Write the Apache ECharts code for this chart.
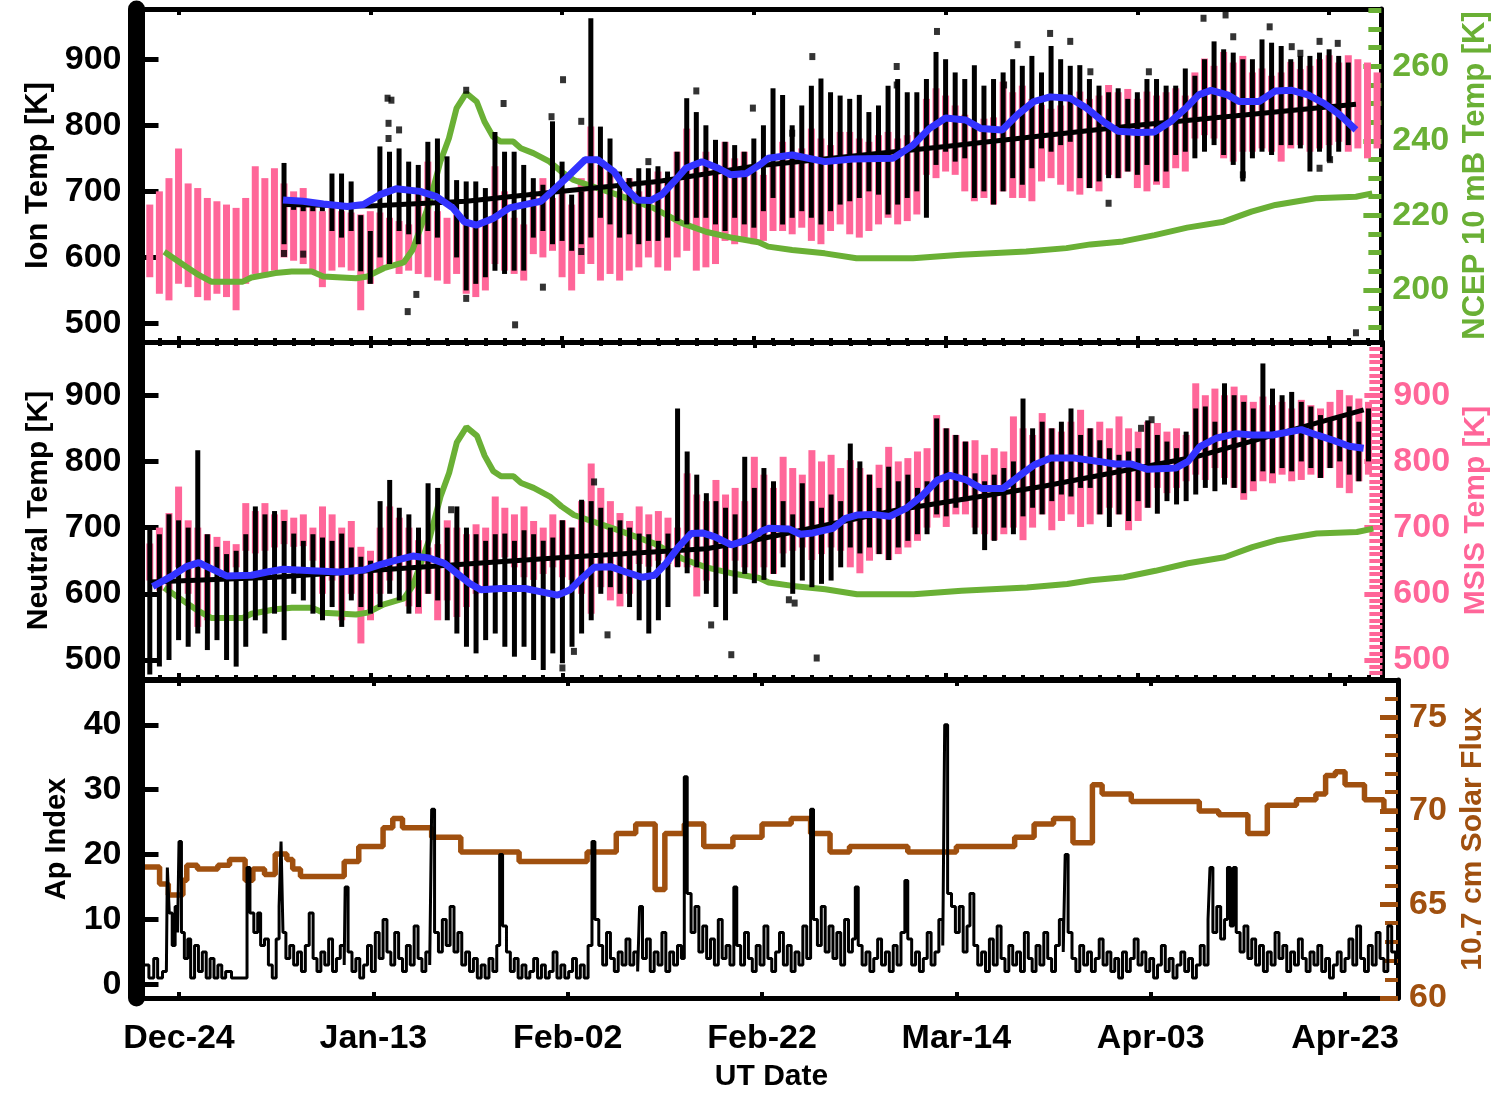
<!DOCTYPE html>
<html><head><meta charset="utf-8">
<script src="https://cdn.jsdelivr.net/npm/echarts@6/dist/echarts.min.js"></script>
<style>html,body{margin:0;padding:0;background:#fff}#c{width:1499px;height:1093px}</style>
</head><body><div id="c"></div>
<script>
// ---------------- DATA (x = days since Dec-24) ----------------
const tickDays = [0, 20, 40, 60, 80, 100, 120];
const tickLabels = ['Dec-24', 'Jan-13', 'Feb-02', 'Feb-22', 'Mar-14', 'Apr-03', 'Apr-23'];

// top panel, pink cloud: [day, low, high]
const ionModelRange = [[-3,570,680],[-2,545,700],[-1,535,720],[0,560,765],[1,555,712],[2,540,705],[3,535,690],[4,545,685],[5,540,680],[6,520,675],[7,560,690],[8,575,738],[9,570,720],[10,580,735],[11,600,712],[12,595,700],[13,590,705],[14,575,680],[15,555,670],[16,580,675],[17,585,670],[18,580,668],[19,520,665],[20,560,670],[21,580,668],[22,585,660],[23,575,655],[24,580,650],[25,575,700],[26,570,745],[27,565,670],[28,560,660],[29,575,665],[30,545,650],[31,540,648],[32,550,655],[33,590,738],[34,580,700],[35,575,660],[36,565,650],[37,605,700],[38,600,720],[39,610,690],[40,570,700],[41,550,680],[42,575,720],[43,590,798],[44,565,740],[45,575,730],[46,565,700],[47,580,720],[48,585,700],[49,600,710],[50,585,730],[51,580,715],[52,600,760],[53,610,795],[54,580,740],[55,585,760],[56,590,735],[57,625,775],[58,620,750],[59,630,760],[60,620,730],[61,625,725],[62,640,740],[63,640,775],[64,635,760],[65,645,765],[66,625,795],[67,620,780],[68,640,770],[69,650,790],[70,635,790],[71,630,780],[72,640,775],[73,650,785],[74,660,790],[75,650,780],[76,655,785],[77,665,790],[78,725,840],[79,720,856],[80,730,845],[81,725,830],[82,700,816],[83,685,800],[84,690,810],[85,680,812],[86,700,866],[87,690,850],[88,690,860],[89,685,840],[90,715,831],[91,720,825],[92,710,830],[93,700,845],[94,695,851],[95,705,840],[96,700,845],[97,725,861],[98,720,850],[99,730,855],[100,705,840],[101,700,851],[102,710,845],[103,705,850],[104,735,856],[105,730,845],[106,780,880],[107,785,901],[108,780,890],[109,750,911],[110,745,895],[111,760,905],[112,760,880],[113,765,886],[114,760,875],[115,745,880],[116,765,896],[117,770,885],[118,760,890],[119,765,900],[120,770,906],[121,775,895],[122,760,906],[123,765,900],[124,750,895],[125,765,880]];

// top panel, measured ion temperature (black): [day, low, high]
const ionTempRange = [[11,620,743],[12,672,684],[13,670,684],[14,670,682],[15,670,684],[16,640,727],[17,630,727],[18,640,715],[19,579,664],[20,560,640],[21,600,768],[22,590,760],[23,640,765],[24,635,745],[25,620,740],[26,640,775],[27,630,780],[28,680,753],[29,600,717],[30,550,715],[31,560,715],[32,570,705],[33,580,790],[34,575,760],[35,580,760],[36,580,740],[37,630,720],[38,640,710],[39,620,806],[40,625,745],[41,610,695],[42,620,700],[43,630,962],[44,660,798],[45,650,780],[46,630,730],[47,635,720],[48,620,735],[49,625,735],[50,625,738],[51,630,730],[52,655,760],[53,650,841],[54,660,820],[55,660,800],[56,650,778],[57,640,775],[58,660,770],[59,650,760],[60,645,780],[61,670,800],[62,690,856],[63,650,846],[64,660,800],[65,670,830],[66,660,860],[67,650,871],[68,670,850],[69,680,845],[70,685,840],[71,690,846],[72,700,820],[73,695,830],[74,665,860],[75,680,870],[76,690,850],[77,700,850],[78,660,870],[79,740,911],[80,760,900],[81,745,880],[82,750,870],[83,690,891],[84,700,860],[85,680,870],[86,700,880],[87,720,900],[88,710,890],[89,735,905],[90,765,880],[91,760,920],[92,770,900],[93,775,890],[94,720,891],[95,705,870],[96,715,860],[97,720,850],[98,720,856],[99,730,840],[100,725,850],[101,740,870],[102,715,870],[103,730,860],[104,755,860],[105,760,886],[106,750,875],[107,760,900],[108,770,927],[109,755,915],[110,740,910],[111,715,900],[112,750,900],[113,760,930],[114,755,925],[115,770,920],[116,770,900],[117,765,905],[118,730,905],[119,760,910],[120,745,915],[121,760,905],[122,770,895]];
const ionTempDots = [[21.8,841],[21.9,803],[23,793],[21.9,780],[30,853],[33.9,833],[40.1,869],[38.9,813],[42,806],[49,745],[54,852],[59.9,826],[35.1,498],[23.9,518],[24.8,544],[30,538],[42,609],[22.2,838],[66.1,904],[79.1,942],[90.9,939],[119,927],[120.9,924],[113.8,949],[106.9,962],[109.2,967],[122.8,486],[97,682],[64,788],[87.5,922],[93,927],[95.1,881],[101.2,881],[116.1,919],[117,909],[74.9,889],[74.9,861],[86.1,861],[110,934],[111,725],[119,735],[120.1,748],[38,555],[13,605],[11,606]];
const ionSmooth = [[10.9,687],[13,685],[15.1,681],[17.6,677],[19.3,680],[21,695],[22.7,704],[25.2,700],[26.9,692],[28.6,675],[29.8,654],[31.1,649],[32.8,659],[34.5,675],[36.1,680],[37.8,685],[39.1,702],[40.8,725],[42.4,748],[43.7,748],[45.4,730],[46.6,705],[47.9,687],[49.2,686],[50.4,695],[51.7,715],[52.9,735],[54.6,745],[56.3,735],[57.6,725],[59.2,727],[60.8,742],[61.5,750],[64,755],[67.4,745],[70.3,749],[74.5,750],[76.6,770],[78.3,795],[80,811],[82.1,808],[83.7,795],[85.9,793],[87.5,816],[89.2,836],[90.9,843],[93,841],[94.7,826],[96.4,806],[98,791],[100.1,789],[101.8,790],[103.5,806],[105.2,828],[106.4,846],[107.7,853],[109.4,846],[110.6,836],[112.7,836],[114.4,852],[116.1,853],[117.8,846],[119.5,833],[121.1,816],[122.8,793]];
const ionTrend = [[11,680],[20,678],[30,685],[40,700],[50,715],[60,738],[80,768],[100,800],[122.8,832]];

// NCEP 10 mB temperature (green, right axis)
const ncepTemp = [[-1.5,210.2],[0.8,206.2],[2.1,204],[3.4,202.2],[6.7,202.2],[7.6,203.3],[10.1,204.5],[11.8,204.9],[13.9,204.9],[15.1,203.6],[18.5,203.1],[19.7,203.6],[21.4,205.8],[23.5,207.4],[24.4,210.7],[26.1,222.8],[27.3,234.4],[28.2,240.7],[29,248.8],[30,252.8],[31.1,250.5],[31.9,245.2],[32.8,241.1],[33.6,239.8],[34.9,239.8],[35.7,238],[37,236.7],[38.7,234.4],[39.9,231.8],[41.2,229.5],[45.8,225.5],[49.6,221.9],[52.5,217.9],[55,215.6],[57.9,213.9],[60.5,212.8],[61.5,211.6],[64,210.7],[67.4,209.8],[70.7,208.5],[76.6,208.5],[81.6,209.4],[88.4,210.3],[92.6,211.2],[95.1,212.2],[98.5,213],[101.8,214.7],[105.2,216.7],[109,218.3],[111.9,221],[114.4,222.8],[118.6,224.6],[122.8,225],[124.5,225.9]];

// middle panel, MSIS (pink): [day, low, high]
const msisRange = [[-3,620,676],[-2,605,700],[-1,601,722],[0,640,762],[1,600,711],[2,550,700],[3,560,690],[4,635,686],[5,631,680],[6,640,675],[7,665,737],[8,661,725],[9,665,737],[10,670,720],[11,675,727],[12,671,715],[13,672,720],[14,650,700],[15,600,732],[16,620,720],[17,560,700],[18,600,710],[19,525,671],[20,560,665],[21,600,700],[22,620,732],[23,640,715],[24,581,700],[25,570,681],[26,600,670],[27,560,675],[28,590,711],[29,565,700],[30,580,690],[31,600,705],[32,610,700],[33,651,747],[34,655,730],[35,640,720],[36,625,732],[37,621,710],[38,630,700],[39,640,720],[40,625,711],[41,621,700],[42,600,740],[43,570,797],[44,610,760],[45,590,740],[46,581,722],[47,600,710],[48,645,732],[49,641,720],[50,650,725],[51,645,715],[52,641,700],[53,640,782],[54,596,750],[55,620,740],[56,640,772],[57,631,750],[58,650,760],[59,640,740],[60,621,807],[61,640,780],[62,630,760],[63,661,807],[64,665,790],[65,670,780],[66,651,817],[67,660,800],[68,670,810],[69,665,790],[70,640,802],[71,631,790],[72,650,780],[73,660,795],[74,651,822],[75,660,800],[76,670,805],[77,680,815],[78,700,820],[79,715,870],[80,701,850],[81,720,840],[82,720,830],[83,700,832],[84,690,810],[85,681,820],[86,690,815],[87,700,868],[88,681,850],[89,700,840],[90,720,873],[91,696,850],[92,710,845],[93,720,860],[94,701,878],[95,705,850],[96,720,860],[97,730,850],[98,720,868],[99,696,850],[100,710,845],[101,730,860],[102,760,858],[103,752,845],[104,760,850],[105,770,840],[106,780,918],[107,772,900],[108,790,910],[109,775,900],[110,760,913],[111,742,900],[112,755,890],[113,770,898],[114,767,885],[115,780,890],[116,770,880],[117,772,893],[118,780,885],[119,775,880],[120,790,890],[121,760,908],[122,752,900],[123,770,895],[124,780,890]];

// middle panel, neutral temperature (black): [day, low, high]
const neutralRange = [[-3,478,700],[-2,490,690],[-1,500,720],[0,530,711],[1,520,700],[2,540,817],[3,515,690],[4,530,671],[5,500,660],[6,490,665],[7,520,690],[8,560,732],[9,540,720],[10,570,725],[11,530,710],[12,600,691],[13,590,680],[14,570,690],[15,560,685],[16,580,680],[17,550,691],[18,590,670],[19,580,656],[20,570,650],[21,580,740],[22,600,772],[23,590,730],[24,570,720],[25,580,700],[26,600,767],[27,590,760],[28,560,700],[29,540,732],[30,520,700],[31,510,690],[32,530,680],[33,540,690],[34,520,691],[35,505,680],[36,520,696],[37,500,690],[38,485,680],[39,510,685],[40,495,711],[41,520,700],[42,540,742],[43,560,740],[44,600,730],[45,610,700],[46,600,711],[47,580,700],[48,560,691],[49,540,690],[50,560,680],[51,580,691],[52,640,880],[53,631,815],[54,640,780],[55,600,752],[56,580,740],[57,560,730],[58,600,720],[59,630,807],[60,616,760],[61,621,790],[62,630,770],[63,640,740],[64,600,720],[65,620,767],[66,610,740],[67,615,730],[68,620,750],[69,640,740],[70,670,827],[71,661,800],[72,670,780],[73,660,760],[74,651,792],[75,670,770],[76,680,780],[77,690,760],[78,690,770],[79,720,865],[80,717,850],[81,730,840],[82,740,830],[83,690,782],[84,666,770],[85,680,780],[86,700,790],[87,690,800],[88,717,895],[89,730,850],[90,720,860],[91,740,850],[92,750,860],[93,747,880],[94,760,840],[95,760,850],[96,720,832],[97,701,820],[98,720,810],[99,710,815],[100,740,820],[101,730,862],[102,721,840],[103,740,830],[104,735,820],[105,740,845],[106,750,880],[107,760,883],[108,755,860],[109,765,918],[110,760,900],[111,752,890],[112,770,880],[113,785,948],[114,782,910],[115,790,900],[116,785,905],[117,800,890],[118,790,883],[119,775,870],[120,790,865],[121,800,870],[122,780,883],[123,770,860],[124,800,880]];
const neutralDots = [[28.4,727],[43.3,769],[55.5,553],[57.6,508],[44.7,538],[41.2,513],[66.5,503],[101.4,863],[100.3,850],[63.6,591],[64.2,586],[40,488]];
const neutralSmooth = [[-2.7,611],[-0.8,626],[0.8,641],[2.1,647],[3.4,638],[5,627],[7.6,628],[9.2,633],[10.9,637],[13.9,635],[16.8,633],[19.3,636],[21,644],[22.7,651],[24.4,657],[26.1,654],[27.7,646],[29,631],[30.3,616],[31.5,606],[33.6,608],[36.1,608],[37.8,603],[39.5,598],[40.8,606],[42,623],[43.3,640],[45,641],[46.6,633],[48.3,625],[49.6,628],[50.8,646],[52.1,671],[53.4,691],[54.6,692],[55.9,686],[57.6,674],[59.2,681],[60.8,695],[61.5,699],[63.6,698],[64.8,690],[66.1,692],[68.2,699],[69.5,714],[70.7,719],[72.4,720],[74.1,717],[75.8,729],[77.4,747],[79.1,772],[80.4,779],[82.1,772],[83.7,759],[85.9,759],[87.5,777],[89.2,795],[90.9,805],[93.4,805],[95.9,800],[97.6,796],[99.3,796],[101,788],[103.9,790],[105.2,800],[106.4,822],[108.1,835],[110.2,842],[111.9,840],[114,840],[117,848],[118.6,840],[120.3,832],[122,823],[123.5,820]];
const neutralTrend = [[-3,618],[10,625],[25,640],[40,655],[55,668],[60,681],[75,727],[90,762],[106,807],[123.5,878]];

// bottom panel: Ap index (black) and 10.7 cm solar flux (brown, step)
const apIndex = [[-3.5,3],[-3.1,1],[-2.6,4],[-2.2,1],[-1.7,2],[-1.3,2],[-1.2,18],[-1.0,11],[-0.7,6],[-0.4,12],[-0.15,8],[0.0,22],[0.25,8],[0.55,4],[0.9,7],[1.2,1],[1.6,6],[2.0,2],[2.4,5],[2.8,1],[3.2,4],[3.6,1],[4.0,3],[4.4,1],[4.8,2],[5.4,1],[6.0,1],[6.6,1],[7.0,18],[7.3,11],[7.7,8],[8.1,11],[8.4,6],[8.8,7],[9.2,3],[9.6,1],[10.0,7],[10.3,12],[10.5,22],[10.7,8],[11.0,4],[11.4,6],[11.8,3],[12.2,5],[12.6,2],[13.0,6],[13.4,11],[13.8,4],[14.2,2],[14.6,5],[15.0,3],[15.4,7],[15.8,2],[16.2,4],[16.6,6],[17.0,3],[17.1,15],[17.4,5],[17.8,2],[18.2,4],[18.6,1],[19.0,3],[19.4,6],[19.8,2],[20.2,8],[20.6,4],[21.0,10],[21.4,5],[21.8,3],[22.2,8],[22.6,4],[23.0,2],[23.4,6],[23.8,3],[24.2,9],[24.6,4],[25.0,2],[25.4,5],[25.8,3],[26.0,27],[26.3,8],[26.7,5],[27.1,10],[27.5,6],[27.9,12],[28.3,5],[28.7,8],[29.1,3],[29.5,5],[29.9,2],[30.3,4],[30.7,1],[31.1,3],[31.5,1],[31.9,4],[32.3,2],[32.7,6],[33.0,20],[33.3,9],[33.7,5],[34.1,2],[34.5,4],[34.9,1],[35.3,3],[35.7,1],[36.1,2],[36.5,4],[36.9,1],[37.3,3],[37.7,1],[38.1,2],[38.5,5],[38.9,1],[39.3,3],[39.7,1],[40.1,2],[40.5,4],[40.9,1],[41.3,3],[41.7,1],[42.1,6],[42.5,22],[42.8,10],[43.2,6],[43.6,3],[44.0,8],[44.4,4],[44.8,2],[45.2,5],[45.6,3],[46.0,7],[46.4,3],[46.8,5],[47.2,2],[47.4,12],[47.7,4],[48.1,7],[48.5,2],[48.9,5],[49.3,3],[49.7,8],[50.1,2],[50.5,5],[50.9,3],[51.3,6],[51.7,4],[52.0,32],[52.3,14],[52.7,8],[53.1,12],[53.5,5],[53.9,9],[54.3,4],[54.7,7],[55.1,3],[55.5,10],[55.9,4],[56.3,6],[56.7,3],[57.1,15],[57.4,6],[57.8,3],[58.2,8],[58.6,4],[59.0,2],[59.4,6],[59.8,3],[60.2,9],[60.6,4],[61.0,2],[61.4,5],[61.8,8],[62.2,3],[62.6,6],[63.0,2],[63.4,5],[63.8,3],[64.2,9],[64.6,4],[65.0,27],[65.3,10],[65.7,6],[66.1,12],[66.5,5],[66.9,9],[67.3,4],[67.7,8],[68.1,3],[68.5,10],[68.9,5],[69.3,7],[69.6,15],[69.9,6],[70.3,3],[70.7,5],[71.1,2],[71.5,4],[71.9,7],[72.3,3],[72.7,5],[73.1,2],[73.5,6],[73.9,3],[74.3,8],[74.7,16],[75.0,7],[75.4,3],[75.8,5],[76.2,2],[76.6,4],[77.0,8],[77.4,3],[77.8,5],[78.2,10],[78.6,6],[78.8,40],[79.1,14],[79.5,12],[79.9,8],[80.3,12],[80.7,5],[81.1,9],[81.4,14],[81.8,6],[82.2,3],[82.6,5],[83.0,2],[83.4,7],[83.8,3],[84.2,9],[84.6,4],[85.0,2],[85.4,6],[85.8,3],[86.2,5],[86.6,2],[87.0,8],[87.4,4],[87.8,2],[88.2,6],[88.6,3],[89.0,8],[89.4,4],[89.8,2],[90.2,6],[90.6,10],[91.0,5],[91.2,20],[91.5,8],[91.9,4],[92.3,2],[92.7,6],[93.1,3],[93.5,5],[93.9,2],[94.3,4],[94.7,7],[95.1,3],[95.5,5],[95.9,2],[96.3,4],[96.7,1],[97.1,5],[97.5,2],[97.9,4],[98.3,7],[98.7,3],[99.1,5],[99.5,2],[99.9,4],[100.3,1],[100.7,3],[101.1,6],[101.5,2],[101.9,4],[102.3,1],[102.7,3],[103.1,5],[103.5,2],[103.9,4],[104.3,1],[104.7,3],[105.1,6],[105.5,3],[105.9,10],[106.1,18],[106.4,8],[106.8,12],[107.2,7],[107.6,10],[107.9,18],[108.2,9],[108.5,18],[108.8,8],[109.2,5],[109.6,9],[110.0,4],[110.4,7],[110.8,3],[111.2,6],[111.6,2],[112.0,5],[112.4,3],[112.8,8],[113.2,4],[113.6,6],[114.0,2],[114.4,5],[114.8,3],[115.2,7],[115.6,4],[116.0,2],[116.4,5],[116.8,3],[117.2,6],[117.6,2],[118.0,4],[118.4,1],[118.8,3],[119.2,5],[119.6,2],[120.0,4],[120.4,7],[120.8,3],[121.2,9],[121.6,4],[122.0,2],[122.4,6],[122.8,3],[123.2,8],[123.6,4],[124.0,2],[124.4,9],[124.8,5],[125.2,3]];
const solarFlux = [[-3.5,67.0],[-2,66.1],[-1.1,65.5],[0.4,66.3],[0.8,67.1],[1.9,66.9],[4,67.1],[5.2,67.4],[6.8,66.3],[7.6,66.9],[8.8,66.6],[9.9,67.7],[11.1,67.4],[11.7,66.9],[12.5,66.5],[17,67.3],[18.5,68.1],[21,69.1],[22,69.6],[23,69.1],[26,68.6],[29,67.8],[35,67.3],[42,67.8],[45,68.8],[47,69.3],[49,65.8],[50,68.8],[52,69.3],[54,68.1],[57,68.6],[60,69.3],[63,69.6],[65,68.8],[67,67.8],[69,68.1],[75,67.8],[80,68.1],[86,68.6],[88,69.3],[90,69.6],[92,68.3],[94,71.4],[95,70.9],[98,70.5],[105,70.0],[107,69.8],[110,68.8],[112,70.3],[115,70.6],[117,70.9],[118,71.9],[119,72.1],[120,71.4],[122,70.6],[124,70.0],[125.4,70.0]];

// axis tick values
const ionTicks = [500, 600, 700, 800, 900];
const ncepTicks = [200, 220, 240, 260];
const apTicks = [0, 10, 20, 30, 40];
const fluxTicks = [60, 65, 70, 75];

// ---------------- STYLE ----------------
const PINK = '#FF6699', GREEN = '#6AB035', BLUE = '#3333FF', BROWN = '#A0500F', BLACK = '#000000';
const FONT = "'Liberation Sans', Arial, sans-serif";
const X_MIN = -3.5, X_MAX = 125.45;

function range(a, b, s) { const r = []; for (let v = a; v <= b + 1e-9; v += s) r.push(+v.toFixed(3)); return r; }
const minorDays = range(-2, 124, 2);

const grids = [
  { left: 145, right: 101, top: 9, height: 333 },
  { left: 145, right: 101, top: 342, height: 337 },
  { left: 145, right: 101, top: 680, height: 333 }
];

function xAx(g, pos, opt) {
  const o = {
    type: 'value', gridIndex: g, position: pos, min: X_MIN, max: X_MAX,
    splitLine: { show: false },
    axisLine: { show: opt.line !== false, onZero: false, lineStyle: { color: BLACK, width: 5 } },
    axisTick: { show: true, inside: true, customValues: opt.ticks || tickDays, length: opt.len || 6, lineStyle: { color: BLACK, width: 4 } },
    axisLabel: { show: false }
  };
  if (opt.labels) {
    o.axisLabel = {
      show: true, customValues: tickDays, margin: 24,
      formatter: v => tickLabels[tickDays.indexOf(v)] || '',
      fontFamily: FONT, fontWeight: 'bold', fontSize: 34, color: BLACK
    };
    o.name = 'UT Date'; o.nameLocation = 'middle'; o.nameGap = 64;
    o.nameTextStyle = { fontFamily: FONT, fontWeight: 'bold', fontSize: 30, color: BLACK };
  }
  return o;
}

const xAxes = [
  xAx(0, 'bottom', {}),                                          // 0 (series)
  xAx(0, 'bottom', { line: false, ticks: minorDays, len: 4 }),   // 1
  xAx(0, 'top', {}),                                             // 2
  xAx(1, 'bottom', {}),                                          // 3 (series)
  xAx(1, 'bottom', { line: false, ticks: minorDays, len: 4 }),   // 4
  xAx(1, 'top', {}),                                             // 5
  xAx(1, 'top', { line: false, ticks: minorDays, len: 4 }),      // 6
  xAx(2, 'bottom', { labels: true }),                            // 7 (series)
  xAx(2, 'top', {})                                              // 8
];

function leftAx(g, min, max, ticks, name, nameSize, nameGap) {
  return {
    type: 'value', gridIndex: g, position: 'left', offset: 8.5, min, max,
    splitLine: { show: false },
    axisLine: { show: true, onZero: false, lineStyle: { color: BLACK, width: 17 } },
    axisTick: { show: true, inside: true, customValues: ticks, length: 22, lineStyle: { color: BLACK, width: 5 } },
    axisLabel: { show: true, customValues: ticks, margin: 15, fontFamily: FONT, fontWeight: 'bold', fontSize: 34, color: BLACK },
    name, nameLocation: 'middle', nameRotate: 90, nameGap,
    nameTextStyle: { fontFamily: FONT, fontWeight: 'bold', fontSize: nameSize, color: BLACK }
  };
}
function rightAx(g, min, max, ticks, color, name, nameSize, nameGap, minor, minorW) {
  const main = {
    type: 'value', gridIndex: g, position: 'right', min, max,
    splitLine: { show: false },
    axisLine: { show: true, onZero: false, lineStyle: { color: BLACK, width: 5 } },
    axisTick: { show: true, inside: true, customValues: ticks, length: 18, lineStyle: { color, width: 5 } },
    axisLabel: { show: true, customValues: ticks, margin: 11, fontFamily: FONT, fontWeight: 'bold', fontSize: 34, color },
    name, nameLocation: 'middle', nameRotate: 90, nameGap,
    nameTextStyle: { fontFamily: FONT, fontWeight: 'bold', fontSize: nameSize, color }
  };
  const mnr = {
    type: 'value', gridIndex: g, position: 'right', min, max,
    splitLine: { show: false }, axisLine: { show: false, onZero: false }, axisLabel: { show: false },
    axisTick: { show: true, inside: true, customValues: minor, length: 13, lineStyle: { color, width: minorW } }
  };
  return [main, mnr];
}

const yAxes = [
  leftAx(0, 472, 976, ionTicks, 'Ion Temp [K]', 31, 82),                                                    // 0
  ...rightAx(0, 186, 275.4, ncepTicks, GREEN, 'NCEP 10 mB Temp [K]', 31, 68, range(190, 275, 5), 5),        // 1,2
  leftAx(1, 471.3, 980.4, ionTicks, 'Neutral Temp [K]', 30, 82),                                             // 3
  ...rightAx(1, 471.3, 980.4, ionTicks, PINK, 'MSIS Temp [K]', 30, 69, range(480, 970, 10), 4),              // 4,5
  { type: 'value', gridIndex: 1, position: 'right', min: 186, max: 275.4, show: false, axisLine: { onZero: false } }, // 6
  leftAx(2, -2.1, 46.9, apTicks, 'Ap Index', 29, 65),                                                         // 7
  ...rightAx(2, 60, 77, fluxTicks, BROWN, '10.7 cm Solar Flux', 30, 55, range(61, 76, 1), 4)                // 8,9
];

function bars(color, w) {
  return function (params, api) {
    const x = api.value(0), lo = api.value(1), hi = api.value(2);
    const a = api.coord([x, hi]), b = api.coord([x, lo]);
    return { type: 'rect', shape: { x: a[0] - w / 2, y: a[1], width: w, height: Math.max(3, b[1] - a[1]) }, style: { fill: color } };
  };
}
function rangeSeries(data, xi, yi, color, w, z) {
  return { type: 'custom', xAxisIndex: xi, yAxisIndex: yi, data, renderItem: bars(color, w), encode: { x: 0, y: [1, 2] }, z, silent: true };
}
function lineSeries(data, xi, yi, color, w, z, step) {
  return { type: 'line', xAxisIndex: xi, yAxisIndex: yi, data, showSymbol: false, symbol: 'none', step: step || false,
    lineStyle: { color, width: w }, z, silent: true };
}
function dotSeries(data, xi, yi, z) {
  return { type: 'scatter', xAxisIndex: xi, yAxisIndex: yi, data, symbol: 'rect', symbolSize: [6, 7], itemStyle: { color: BLACK }, z, silent: true };
}

const series = [
  rangeSeries(ionModelRange, 0, 0, PINK, 7, 2),
  lineSeries(ncepTemp, 0, 1, GREEN, 6, 3),
  rangeSeries(ionTempRange, 0, 0, BLACK, 5, 4),
  dotSeries(ionTempDots, 0, 0, 4),
  lineSeries(ionTrend, 0, 0, BLACK, 5, 5),
  lineSeries(ionSmooth, 0, 0, BLUE, 7, 6),

  rangeSeries(msisRange, 3, 3, PINK, 7, 2),
  lineSeries(ncepTemp, 3, 6, GREEN, 6, 3),
  rangeSeries(neutralRange, 3, 3, BLACK, 5, 4),
  dotSeries(neutralDots, 3, 3, 4),
  lineSeries(neutralTrend, 3, 3, BLACK, 5, 5),
  lineSeries(neutralSmooth, 3, 3, BLUE, 7, 6),

  lineSeries(solarFlux, 7, 8, BROWN, 5.5, 3, 'end'),
  lineSeries(apIndex, 7, 7, BLACK, 3, 4, 'end')
];

const chart = echarts.init(document.getElementById('c'), null, { renderer: 'canvas' });
chart.setOption({
  animation: false,
  backgroundColor: '#ffffff',
  grid: grids,
  xAxis: xAxes,
  yAxis: yAxes,
  series
});
</script>
</body></html>
